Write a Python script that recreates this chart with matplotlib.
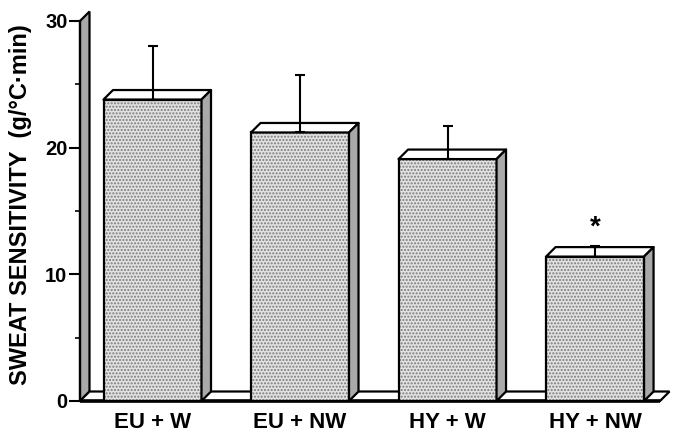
import matplotlib
matplotlib.use('Agg')
import matplotlib.pyplot as plt
from matplotlib.patches import Polygon, Rectangle
from matplotlib.ticker import MultipleLocator

categories = ['EU + W', 'EU + NW', 'HY + W', 'HY + NW']
means = [23.8, 21.2, 19.1, 11.4]
sd_upper = [4.2, 4.5, 2.6, 0.8]
significant = [False, False, False, True]
yticks = [0, 10, 20, 30]

plt.rcParams['font.family'] = ['Liberation Sans', 'DejaVu Sans']
plt.rcParams['font.weight'] = 'bold'

fig = plt.figure(figsize=(6.75, 4.32), dpi=100)
ax = fig.add_axes([80/675, 31/432, 590/675, 380/432])
xmin, xmax = -0.4915, 3.508
ax.set_xlim(xmin, xmax)
ax.set_ylim(0, 30)

px_x = 590 / (xmax - xmin)
px_y = 380 / 30.0
dx = 9.5 / px_x
dy = 9.5 / px_y
w = 98 / px_x

wall_c = '#a9a9a9'
lw = 1.6

# left wall
ax.add_patch(Polygon([(xmin, 0), (xmin + dx, dy), (xmin + dx, 30 + dy), (xmin, 30)],
                     closed=True, facecolor=wall_c, edgecolor='black', lw=lw,
                     clip_on=False, zorder=2))
# floor
xr = (660 - 152.5) / px_x
ax.add_patch(Polygon([(xmin, 0), (xr, 0), (xr + dx, dy), (xmin + dx, dy)],
                     closed=True, facecolor='white', edgecolor='black', lw=lw,
                     clip_on=False, zorder=2))
ax.plot([xmin, xr], [0, 0], color='black', lw=2.6, clip_on=False, zorder=3,
        solid_capstyle='butt')

for i, (m, s) in enumerate(zip(means, sd_upper)):
    x0 = i - w / 2
    x1 = i + w / 2
    ax.add_patch(Rectangle((x0, 0), w, m, facecolor='#e2e2e2', edgecolor='#7a7a7a',
                           hatch='.....', lw=0, zorder=4))
    ax.add_patch(Rectangle((x0, 0), w, m, fill=False, edgecolor='black', lw=lw, zorder=5))
    ax.add_patch(Polygon([(x0, m), (x1, m), (x1 + dx, m + dy), (x0 + dx, m + dy)],
                         closed=True, facecolor='white', edgecolor='black', lw=lw,
                         zorder=5, joinstyle='round'))
    ax.add_patch(Polygon([(x1, 0), (x1 + dx, dy), (x1 + dx, m + dy), (x1, m)],
                         closed=True, facecolor=wall_c, edgecolor='black', lw=lw,
                         zorder=5, joinstyle='round'))

xs = list(range(len(categories)))
ax.errorbar(xs, means, yerr=[[0] * len(means), sd_upper], fmt='none', ecolor='black',
            elinewidth=1.5, capsize=3.6, capthick=1.5, zorder=6)

for i, sig in enumerate(significant):
    if sig:
        ax.text(i, means[i] + sd_upper[i] + 0.5, '*', ha='center', va='bottom',
                fontsize=20, fontweight='bold', zorder=7)

for side in ['top', 'right', 'bottom']:
    ax.spines[side].set_visible(False)
ax.spines['left'].set_linewidth(1.6)
ax.spines['left'].set_zorder(3)

ax.set_yticks(yticks)
ax.yaxis.set_minor_locator(MultipleLocator(5))
ax.tick_params(axis='y', which='major', length=8, width=1.5, labelsize=14.5, pad=1)
ax.tick_params(axis='y', which='minor', length=3.6, width=1.2)
for lab in ax.get_yticklabels():
    lab.set_fontweight('bold')

ax.set_xticks(xs)
ax.set_xticklabels(categories, fontsize=16, fontweight='bold')
ax.tick_params(axis='x', length=0, pad=8)

fig.text(21/675, (432 - 205)/432, 'SWEAT SENSITIVITY  (g/°C·min)', rotation=90,
         ha='center', va='center', fontsize=17, fontweight='bold')

fig.savefig('out.png', dpi=100)
